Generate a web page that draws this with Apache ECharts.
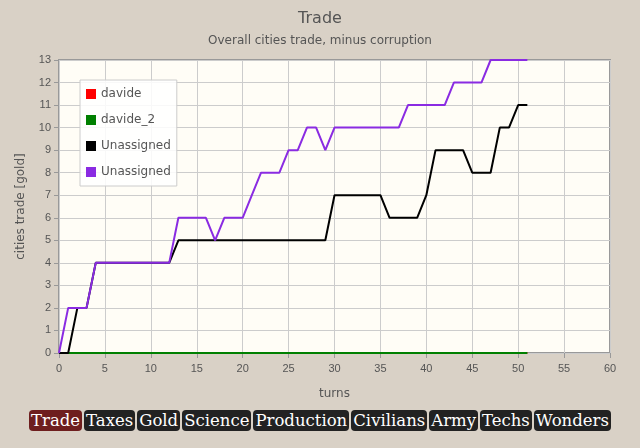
<!DOCTYPE html>
<html><head><meta charset="utf-8">
<script src="https://cdn.jsdelivr.net/npm/echarts@6/dist/echarts.min.js"></script>
<style>
body{margin:0;width:640px;height:448px;background:#d9d1c6;overflow:hidden;font-family:"DejaVu Serif",serif}
#c{width:640px;height:405px}
#tabs{position:absolute;top:410px;left:0;width:640px;text-align:center;font-size:16.5px}
#tabs span{display:inline-block;background:#222;color:#fff;border-radius:4px;padding:1px 2px;margin:0 1px;line-height:19px}
#tabs span.a{background:#6e1e1e}
</style></head><body>
<div id="c"></div>
<div id="tabs"></div>
<script>
const turns=[];for(let i=0;i<=51;i++)turns.push(i);
const davide=[0,0,0,0,0,0,0,0,0,0,0,0,0,0,0,0,0,0,0,0,0,0,0,0,0,0,0,0,0,0,0,0,0,0,0,0,0,0,0,0,0,0,0,0,0,0,0,0,0,0,0,0];
const davide2=[0,0,0,0,0,0,0,0,0,0,0,0,0,0,0,0,0,0,0,0,0,0,0,0,0,0,0,0,0,0,0,0,0,0,0,0,0,0,0,0,0,0,0,0,0,0,0,0,0,0,0,0];
const unassignedBlack=[0,0,2,2,4,4,4,4,4,4,4,4,4,5,5,5,5,5,5,5,5,5,5,5,5,5,5,5,5,5,7,7,7,7,7,7,6,6,6,6,7,9,9,9,9,8,8,8,10,10,11,11];
const unassignedPurple=[0,2,2,2,4,4,4,4,4,4,4,4,4,6,6,6,6,5,6,6,6,7,8,8,8,9,9,10,10,9,10,10,10,10,10,10,10,10,11,11,11,11,11,12,12,12,12,13,13,13,13,13];
const tabs=["Trade","Taxes","Gold","Science","Production","Civilians","Army","Techs","Wonders"];
document.getElementById('tabs').innerHTML=tabs.map((t,i)=>`<span class="${i==0?'a':''}">${t}</span>`).join('');
const mk=(name,d,c)=>({name,type:'line',data:turns.map((t,i)=>[t,d[i]]),showSymbol:false,lineStyle:{color:c,width:2},itemStyle:{color:c}});
const ch=echarts.init(document.getElementById('c'));
ch.setOption({
 title:{text:'Trade',subtext:'Overall cities trade, minus corruption',left:'center',top:6,itemGap:8,
  textStyle:{color:'#555',fontSize:16,fontWeight:'normal',fontFamily:'DejaVu Sans'},
  subtextStyle:{color:'#555',fontSize:12,fontFamily:'DejaVu Sans'}},
 legend:{orient:'vertical',left:80,top:80,backgroundColor:'rgba(255,255,255,0.85)',borderColor:'#ccc',borderWidth:1,
  itemWidth:10,itemHeight:10,itemGap:14,icon:'rect',textStyle:{color:'#555',fontSize:12,fontFamily:'DejaVu Sans'},padding:[8,6],
  data:['davide','davide_2','Unassigned','Unassigned '],formatter:n=>n.trim()},
 grid:{left:59,right:30,top:60,bottom:52,backgroundColor:'#fffdf6',show:true,borderColor:'#999',borderWidth:2},
 xAxis:{type:'value',min:0,max:60,interval:5,name:'turns',nameLocation:'middle',nameGap:35,
  nameTextStyle:{color:'#555',fontSize:12,fontFamily:'DejaVu Sans'},
  axisLabel:{color:'#555',fontSize:11,margin:10},axisLine:{show:false},axisTick:{show:true,lineStyle:{color:'#999'}},
  splitLine:{lineStyle:{color:'#ccc'}}},
 yAxis:{type:'value',min:0,max:13,interval:1,name:'cities trade [gold]',nameLocation:'middle',nameGap:32,
  nameTextStyle:{color:'#555',fontSize:12,fontFamily:'DejaVu Sans'},
  axisLabel:{color:'#555',fontSize:11},axisLine:{show:false},axisTick:{show:true,lineStyle:{color:'#999'}},
  splitLine:{lineStyle:{color:'#ccc'}}},
 series:[mk('davide',davide,'#ff0000'),mk('davide_2',davide2,'#008000'),
  mk('Unassigned',unassignedBlack,'#000000'),
  mk('Unassigned ',unassignedPurple,'#8a2be2')]
});
</script></body></html>
